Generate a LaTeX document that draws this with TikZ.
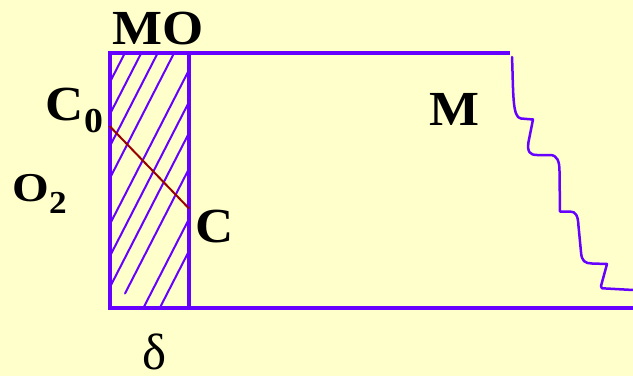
\documentclass[tikz,border=0pt]{standalone}
\usepackage{fontspec}
\setmainfont{Liberation Serif}
\definecolor{bg}{HTML}{FFFFCC}
\definecolor{purp}{HTML}{6600FF}
\definecolor{dred}{HTML}{990000}
\newcommand{\wide}[2]{\scalebox{#1}[1]{#2}}
\begin{document}
\begin{tikzpicture}[x=1pt,y=1pt,
  lbl/.style={inner sep=0pt, anchor=base west, font=\fontsize{49}{49}\selectfont\bfseries},
  lblsmall/.style={inner sep=0pt, anchor=base west, font=\fontsize{41}{41}\selectfont\bfseries},
  subA/.style={inner sep=0pt, anchor=base west, font=\fontsize{35}{35}\selectfont\bfseries},
  subB/.style={inner sep=0pt, anchor=base west, font=\fontsize{32}{32}\selectfont\bfseries},
  greek/.style={inner sep=0pt, anchor=base west, font=\fontsize{51}{51}\selectfont},
  frame/.style={draw=purp, line width=4pt},
  hatch/.style={draw=purp, line width=2pt, line cap=round},
  wave/.style={draw=purp, line width=2.5pt, line join=round, line cap=round},
  profile/.style={draw=dred, line width=2pt}]
\fill[bg] (0,0) rectangle (633,376);
\useasboundingbox (0,0) rectangle (633,376);
\coordinate (BL) at (109.5,68);
\coordinate (TR) at (189,323.5);
\coordinate (TL) at (109.5,323.5);
\coordinate (BR) at (189,68);
\coordinate (TE) at (510,323.5);
\coordinate (BE) at (633,68);
\coordinate (C0p) at (109.5,250);
\coordinate (Cp) at (189,167.5);
% hatching
\begin{scope}
\clip (BL) rectangle (TR);
\foreach \c in {83,115,147,179,225,257,288,374,406}
  \draw[hatch] ({109.5-20},{376-\c-39}) -- ++(120,234);
\draw[hatch] (125,82.5) -- ++(100,195);
\end{scope}
% frame
\draw[frame] (BL) rectangle (TR);
\draw[frame] (TL) -- (TE);
\draw[frame] (BL) -- (BE);
% concentration profile
\draw[profile] (C0p) -- (Cp);
% wavy boundary
\draw[wave] (512,319) .. controls (513.5,285) and (512,258) .. (521,257.5)
 -- (533,256.5)
 -- (528.5,234) .. controls (527,224) and (530,221) .. (537,221)
 -- (550,221) .. controls (557,221) and (559.5,215) .. (559.5,205)
 -- (560,164.5)
 -- (570,164.5) .. controls (576,164.5) and (578,160) .. (578.5,150)
 -- (581,124) .. controls (581.5,115) and (585,112.5) .. (592,112.5)
 -- (607,112)
 -- (601,90) .. controls (600.5,87.5) and (602,87.5) .. (606,87.5)
 -- (633,86);
% labels
\node[lbl] (MO) at (112,331) {\wide{1.08}{MO}};
\node[lbl] (C0) at (45,256) {\wide{1.08}{C}};
\node[subA] (C0s) at (84,244) {\wide{1.08}{0}};
\node[lblsmall] (O2) at (12,175) {\wide{1.15}{O}};
\node[subB] (O2s) at (49,163) {\wide{1.1}{2}};
\node[lbl] (M) at (429,251) {\wide{1.08}{M}};
\node[lbl] (C) at (195,134) {\wide{1.08}{C}};
\node[greek] (delta) at (142,6.5) {δ};
\end{tikzpicture}
\end{document}
